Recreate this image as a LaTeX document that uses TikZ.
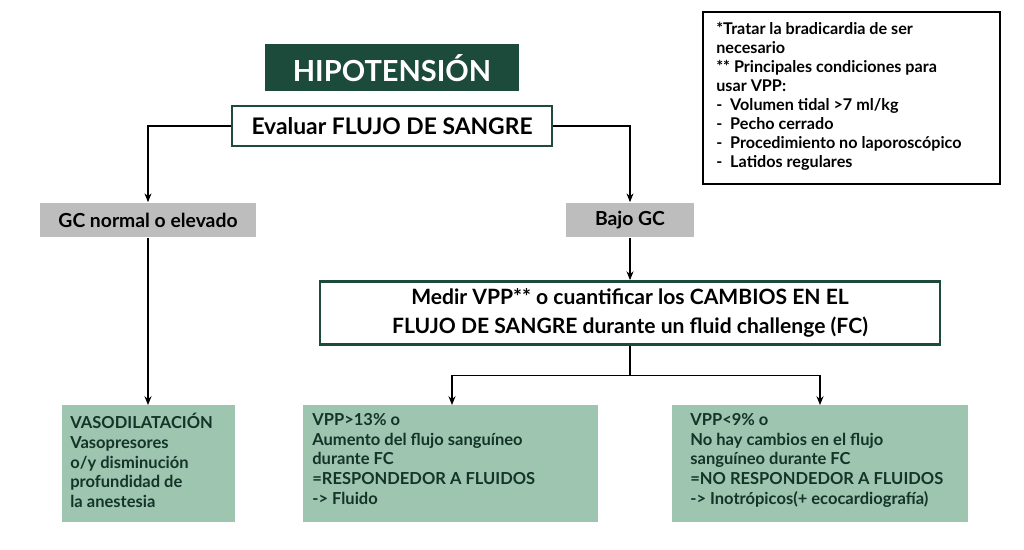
\documentclass[tikz,border=0pt]{standalone}
\usepackage{fontspec}
\setmainfont{Lato}
\usetikzlibrary{positioning,arrows.meta}
\definecolor{darkgreen}{HTML}{1C4A3B}
\definecolor{palegreen}{HTML}{9DC5AF}
\definecolor{greybox}{HTML}{BDBDBD}

\begin{document}
\begin{tikzpicture}[x=0.02cm,y=-0.02cm,
	title/.style={fill=darkgreen, text=white, font=\fontsize{16.5}{18}\selectfont\bfseries,
		minimum width=5.1cm, minimum height=0.94cm},
	framebox/.style={draw=darkgreen, line width=1.6pt, fill=white, align=center},
	greylabel/.style={fill=greybox, font=\fontsize{11}{13}\selectfont\bfseries, minimum height=0.7cm},
	result/.style={text=darkgreen!70!black, align=left, anchor=north west,
		font=\fontsize{9.4}{11.2}\selectfont\bfseries, inner sep=0pt},
	link/.style={-{Stealth[length=5pt,width=4pt]}, line width=0.6pt},
	]

	\useasboundingbox (0,0) rectangle (1024,550);

	\node[title] (hipo) at (392,68) {HIPOTENSIÓN};
	\node[framebox, minimum width=6.4cm, minimum height=0.8cm,
		font=\fontsize{13}{15}\selectfont\bfseries] (evaluar) at (392,126) {Evaluar FLUJO DE SANGRE};

	\node[greylabel, minimum width=4.34cm] (normal) at (148,220) {GC normal o elevado};
	\node[greylabel, minimum width=2.56cm] (bajo) at (630,220) {Bajo GC};

	\node[framebox, minimum width=12.4cm, minimum height=1.26cm,
		font=\fontsize{12}{16.5}\selectfont\bfseries] (medir) at (630,313)
		{Medir VPP** o cuantificar los CAMBIOS EN EL\\FLUJO DE SANGRE durante un fluid challenge (FC)};

	% result boxes
	\fill[palegreen] (62,405) rectangle (235,522);
	\fill[palegreen] (303,405) rectangle (598,522);
	\fill[palegreen] (672,405) rectangle (968,522);
	\coordinate (vaso) at (148,405);
	\coordinate (resp) at (452,405);
	\coordinate (noresp) at (820,405);
	\node[result] (vasotxt) at (70,413) {VASODILATACIÓN\\Vasopresores\\o/y disminución\\profundidad de\\la anestesia};
	\node[result] (resptxt) at (312,413) {VPP>13\% o\\Aumento del flujo sanguíneo\\durante FC\\=RESPONDEDOR A FLUIDOS\\-> Fluido};
	\node[result] (norestxt) at (690,413) {VPP<9\% o\\No hay cambios en el flujo\\sanguíneo durante FC\\=NO RESPONDEDOR A FLUIDOS\\-> Inotrópicos(+ ecocardiografía)};

	% note
	\draw[line width=0.8pt] (703,12) rectangle (1000,184);
	\node[anchor=north west, align=left, inner sep=0pt,
		font=\fontsize{9.2}{10.8}\selectfont\bfseries] (nota) at (716,22)
		{*Tratar la bradicardia de ser\\necesario\\{}** Principales condiciones para\\usar VPP:\\
		-\ \ Volumen tidal >7 ml/kg\\-\ \ Pecho cerrado\\-\ \ Procedimiento no laporoscópico\\-\ \ Latidos regulares};

	% connectors
	\draw[link] (evaluar.west) -| (normal.north);
	\draw[link] (evaluar.east) -| (bajo.north);
	\draw[link] (bajo.south) -- (medir.north);
	\draw[link] (normal.south) -- (vaso);
	\draw[line width=0.6pt] (medir.south) -- ++(0,30) coordinate (split);
	\draw[link] (split) -| (resp);
	\draw[link] (split) -| (noresp);
\end{tikzpicture}
\end{document}
